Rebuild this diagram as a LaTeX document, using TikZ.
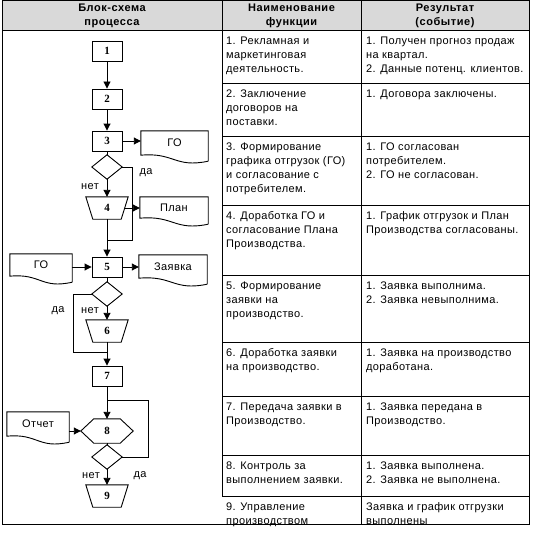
\documentclass[tikz,border=0pt]{standalone}
\usepackage{fontspec}
\setmainfont{Liberation Sans}
\newfontfamily\numfont{Liberation Serif}
\usetikzlibrary{arrows.meta,calc}
\newcommand\cellfont{\fontsize{11}{14}\selectfont\addfontfeatures{LetterSpace=3.5}}
\newcommand\headfont{\fontsize{11}{14}\selectfont\bfseries\addfontfeatures{LetterSpace=5}}
\newcommand\diaout[1]{\draw[ln] (#1.north) -- (#1.east) -- (#1.south) -- (#1.west) -- cycle;}
\newcommand\trapout[1]{\draw[ln] (#1.north west) -- (#1.north east) -- ([xshift=-7pt]#1.south east) -- ([xshift=7pt]#1.south west) -- cycle;}
\newcommand\hexout[1]{\draw[ln] (#1.west) -- ([xshift=13pt]#1.north west) -- ([xshift=-13pt]#1.north east) -- (#1.east) -- ([xshift=-13pt]#1.south east) -- ([xshift=13pt]#1.south west) -- cycle;}
\newcommand\docout[1]{\draw[ln] ([yshift=-6pt]#1.south east) -- (#1.north east) -- (#1.north west) -- (#1.south west) .. controls ($(#1.south west)!0.5!(#1.south east)+(0pt,3pt)$) and ($(#1.south west)!0.5!(#1.south east)+(0pt,-13pt)$) .. ([yshift=-6pt]#1.south east);}
\definecolor{headgray}{RGB}{217,217,217}
\begin{document}
\begin{tikzpicture}[x=1pt,y=-1pt,
  ln/.style={line width=0.9pt, black},
  tl/.style={line width=0.9pt, black},
  arr/.style={ln, -{Triangle[length=7pt,width=7pt]}},
  cell/.style={anchor=north west, inner sep=0pt, align=left, font=\cellfont},
  head/.style={anchor=north, inner sep=0pt, align=center, font=\headfont},
  boxnode/.style={draw, ln, minimum width=30pt, minimum height=20pt, inner sep=0pt, font=\numfont\bfseries\fontsize{11}{12}\selectfont},
  dnode/.style={inner sep=0pt, minimum width=30pt, minimum height=24pt},
  tnode/.style={inner sep=0pt, minimum width=42pt, minimum height=22pt, font=\numfont\bfseries\fontsize{11}{12}\selectfont},
  hnode/.style={inner sep=0pt, minimum width=52pt, minimum height=24pt, font=\numfont\bfseries\fontsize{11}{12}\selectfont},
  docnode/.style={inner sep=0pt, font=\cellfont},
  lbl/.style={inner sep=0pt, font=\cellfont}
]
\useasboundingbox (0,0) rectangle (540,532);
% table
\fill[headgray] (2,0.5) rectangle (529,30);
\draw[tl] (2,0.5) rectangle (529,524);
\draw[tl] (2,30) -- (529,30);
\draw[tl] (222,0.5) -- (222,496);
\draw[tl] (361,0.5) -- (361,524);
\foreach \yy in {83,136,205,275,342,396,455,496} \draw[tl] (222,\yy) -- (529,\yy);
\node[head] (h1) at (112,2) {\strut Блок-схема\\процесса};
\node[head] (h2) at (291.5,2) {\strut Наименование\\функции};
\node[head] (h3) at (445,2) {\strut Результат\\(событие)};
% column 2
\node[cell] (f1) at (226,34.5) {\strut 1. Рекламная и\\маркетинговая\\деятельность.};
\node[cell] (f2) at (226,87.5) {\strut 2. Заключение\\договоров на\\поставки.};
\node[cell] (f3) at (226,140.5) {\strut 3. Формирование\\графика отгрузок (ГО)\\и согласование с\\потребителем.};
\node[cell] (f4) at (226,209.5) {\strut 4. Доработка ГО и\\согласование Плана\\Производства.};
\node[cell] (f5) at (226,279.5) {\strut 5. Формирование\\заявки на\\производство.};
\node[cell] (f6) at (226,346.5) {\strut 6. Доработка заявки\\на производство.};
\node[cell] (f7) at (226,400.5) {\strut 7. Передача заявки в\\Производство.};
\node[cell] (f8) at (226,459.5) {\strut 8. Контроль за\\выполнением заявки.};
\node[cell] (f9) at (226,500.5) {\strut 9. Управление\\производством};
% column 3
\node[cell] (r1) at (366,34.5) {\strut 1. Получен прогноз продаж\\на квартал.\\2. Данные потенц. клиентов.};
\node[cell] (r2) at (366,87.5) {\strut 1. Договора заключены.};
\node[cell] (r3) at (366,140.5) {\strut 1. ГО согласован\\потребителем.\\2. ГО не согласован.};
\node[cell] (r4) at (366,209.5) {\strut 1. График отгрузок и План\\Производства согласованы.};
\node[cell] (r5) at (366,279.5) {\strut 1. Заявка выполнима.\\2. Заявка невыполнима.};
\node[cell] (r6) at (366,346.5) {\strut 1. Заявка на производство\\доработана.};
\node[cell] (r7) at (366,400.5) {\strut 1. Заявка передана в\\Производство.};
\node[cell] (r8) at (366,459.5) {\strut 1. Заявка выполнена.\\2. Заявка не выполнена.};
\node[cell] (r9) at (366,500.5) {\strut Заявка и график отгрузки\\выполнены};
% flowchart nodes
\node[boxnode] (b1) at (107,51) {1};
\node[boxnode] (b2) at (107,99) {2};
\node[boxnode] (b3) at (107,141) {3};
\node[dnode] (d1) at (107,167) {};
\node[tnode] (t4) at (107,208) {4};
\node[boxnode] (b5) at (107,267) {5};
\node[dnode] (d2) at (107,294) {};
\node[tnode] (t6) at (107,331) {6};
\node[boxnode] (b7) at (107,376) {7};
\node[hnode] (h8) at (107,431) {8};
\node[dnode] (d3) at (107,457) {};
\node[tnode] (t9) at (107,496) {9};
\diaout{d1}\diaout{d2}\diaout{d3}
\trapout{t4}\trapout{t6}\trapout{t9}
\hexout{h8}
% documents
\node[docnode, minimum width=67pt, minimum height=24pt] (go1) at (174.5,143) {ГО};
\node[docnode, minimum width=68pt, minimum height=21pt] (plan) at (174,207.5) {План};
\node[docnode, minimum width=62pt, minimum height=22pt] (go2) at (41,265) {ГО};
\node[docnode, minimum width=68pt, minimum height=23pt] (zay) at (173,266.5) {Заявка};
\node[docnode, minimum width=62pt, minimum height=24pt] (otch) at (38,424) {Отчет};
\docout{go1}\docout{plan}\docout{go2}\docout{zay}\docout{otch}
% labels
\node[lbl] (l1) at (146,173) {да};
\node[lbl] (l2) at (90,187) {нет};
\node[lbl] (l3) at (58,311) {да};
\node[lbl] (l4) at (90,311) {нет};
\node[lbl] (l5) at (91,476) {нет};
\node[lbl] (l6) at (140,476) {да};
% junctions
\coordinate (c1) at (132,240); \coordinate (j1) at (107,240);
\coordinate (c2) at (73,352); \coordinate (j2) at (107,352);
\coordinate (c3) at (148,400); \coordinate (j3) at (107,400);
% connectors
\draw[arr] (b1) -- (b2);
\draw[arr] (b2) -- (b3);
\draw[arr] (b3.east) -- (b3.east -| go1.west);
\draw[ln] (b3.south) -- (d1.north);
\draw[arr] (d1.south) -- (t4.north);
\draw[ln] (d1.east) -| (c1) -- (j1);
\draw[arr] ([xshift=-3.5pt]t4.east) -- (t4.east -| plan.west);
\draw[arr] (t4.south) -- (b5.north);
\draw[arr] (b5.west -| go2.east) -- (b5.west);
\draw[arr] (b5.east) -- (b5.east -| zay.west);
\draw[ln] (b5.south) -- (d2.north);
\draw[arr] (d2.south) -- (t6.north);
\draw[ln] (d2.west) -| (c2) -- (j2);
\draw[arr] (t6.south) -- (b7.north);
\draw[arr] (b7.south) -- (h8.north);
\draw[ln] (d3.east) -| (c3) -- (j3);
\draw[arr] (h8.west -| otch.east) -- (h8.west);
\draw[ln] (h8.south) -- (d3.north);
\draw[arr] (d3.south) -- (t9.north);
\end{tikzpicture}
\end{document}
